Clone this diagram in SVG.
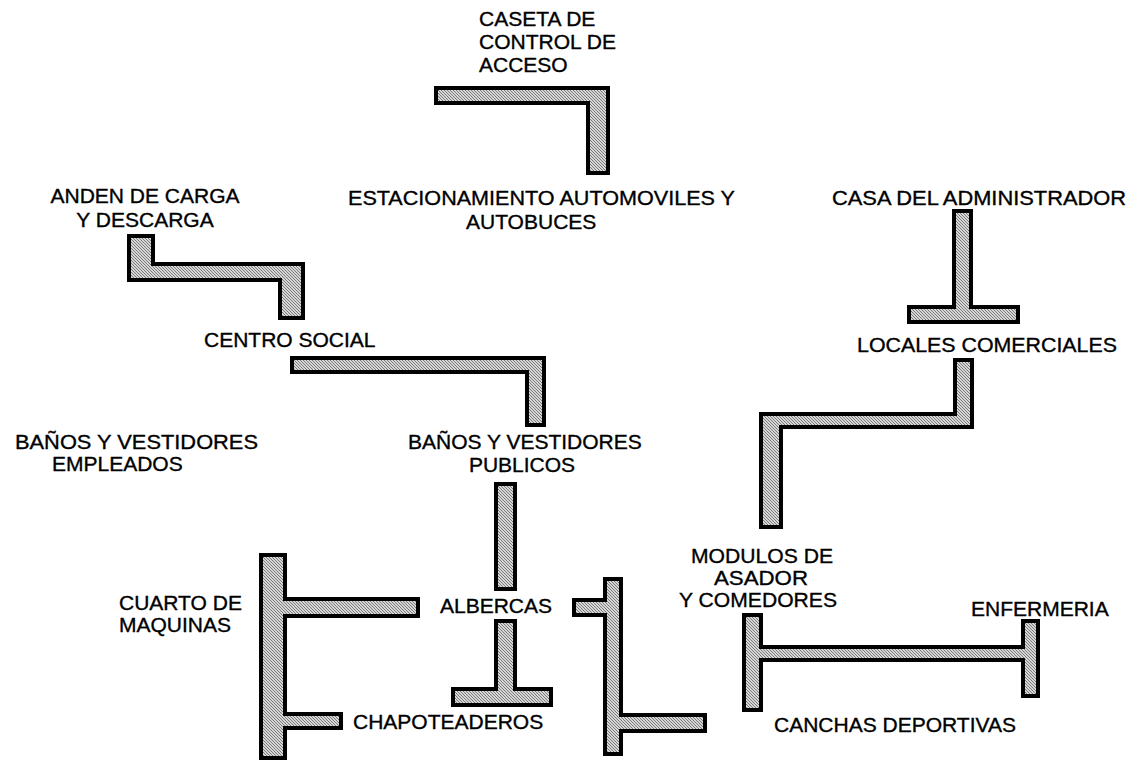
<svg xmlns="http://www.w3.org/2000/svg" width="1136" height="763" viewBox="0 0 1136 763">
<style>
text{font-family:"Liberation Sans",Arial,sans-serif;font-size:21px;fill:#000;stroke:#000;stroke-width:0.35}
.bar{fill:url(#hatch);stroke:#000;stroke-width:4;stroke-linejoin:miter}
</style>
<defs>
<pattern id="hatch" width="3" height="3" patternUnits="userSpaceOnUse">
<rect width="3" height="3" fill="#d6d6d6"/>
<rect x="0" y="0" width="1" height="1" fill="#7a7a7a"/>
<rect x="1" y="1" width="1" height="1" fill="#7a7a7a"/>
<rect x="2" y="2" width="1" height="1" fill="#7a7a7a"/>
</pattern>
</defs>
<rect width="1136" height="763" fill="#fff"/>
<g id="connectors">
<path class="bar" d="M436,88H608V173H588V103H436Z"/>
<path class="bar" d="M129,236H153V264H303V318H280V280H129Z"/>
<path class="bar" d="M292,358H544V425H527V372H292Z"/>
<path class="bar" d="M496,484H515V589H496Z"/>
<path class="bar" d="M496,621H515V689H551V705H453V689H496Z"/>
<path class="bar" d="M261,555H285V599H418V616H285V714H341V728H285V758H261Z"/>
<path class="bar" d="M605,579H621V715H705V731H621V754H605V615H574V600H605Z"/>
<path class="bar" d="M954,211H971V307H1018V322H909V307H954Z"/>
<path class="bar" d="M955,360H972V427H781V527H761V414H955Z"/>
<path class="bar" d="M744,615H761V647H1023V621H1038V696H1023V660H761V710H744Z"/>
</g>
<g id="caseta"><text x="479" y="26">CASETA DE</text><text x="479" y="49">CONTROL DE</text><text x="479" y="72">ACCESO</text></g>
<g id="estacionamiento"><text x="348" y="205" textLength="387" lengthAdjust="spacingAndGlyphs">ESTACIONAMIENTO AUTOMOVILES Y</text><text x="466" y="229">AUTOBUCES</text></g>
<g id="anden"><text x="145" y="203" text-anchor="middle">ANDEN DE CARGA</text><text x="145" y="227" text-anchor="middle">Y DESCARGA</text></g>
<g id="casa-admin"><text x="832" y="205" textLength="294" lengthAdjust="spacingAndGlyphs">CASA DEL ADMINISTRADOR</text></g>
<g id="centro-social"><text x="204" y="347">CENTRO SOCIAL</text></g>
<g id="locales"><text x="857" y="352" textLength="260" lengthAdjust="spacingAndGlyphs">LOCALES COMERCIALES</text></g>
<g id="banos-empleados"><text x="15" y="449" textLength="243" lengthAdjust="spacingAndGlyphs">BAÑOS Y VESTIDORES</text><text x="52" y="471">EMPLEADOS</text></g>
<g id="banos-publicos"><text x="408" y="449">BAÑOS Y VESTIDORES</text><text x="522" y="472" text-anchor="middle">PUBLICOS</text></g>
<g id="cuarto-maquinas"><text x="119" y="610">CUARTO DE</text><text x="119" y="632">MAQUINAS</text></g>
<g id="albercas"><text x="440" y="613">ALBERCAS</text></g>
<g id="chapoteaderos"><text x="353" y="729">CHAPOTEADEROS</text></g>
<g id="modulos" font-size="19.5"><text x="762" y="563" text-anchor="middle" font-size="19.5" textLength="142" lengthAdjust="spacingAndGlyphs">MODULOS DE</text><text x="761" y="585" text-anchor="middle" font-size="19.5" textLength="94" lengthAdjust="spacingAndGlyphs">ASADOR</text><text x="758" y="607" text-anchor="middle" font-size="19.5" textLength="158" lengthAdjust="spacingAndGlyphs">Y COMEDORES</text></g>
<g id="enfermeria"><text x="971" y="616" font-size="20">ENFERMERIA</text></g>
<g id="canchas"><text x="774" y="732" font-size="20.5">CANCHAS DEPORTIVAS</text></g>
</svg>
